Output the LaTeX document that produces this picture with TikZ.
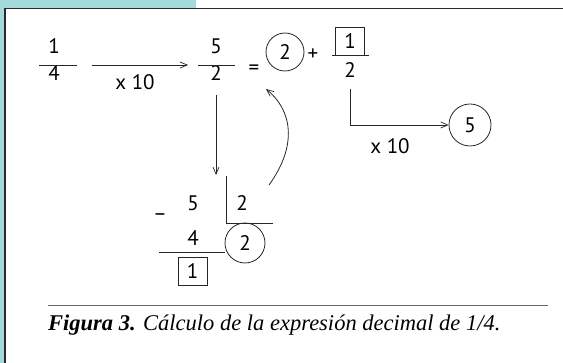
\documentclass[tikz,border=0pt]{standalone}
\usepackage{fontspec}
\setmainfont{Liberation Serif}
\newfontfamily\digfont{PT Sans}
\usetikzlibrary{arrows.meta}
\definecolor{bandteal}{HTML}{A4D9DA}
\definecolor{framegray}{HTML}{2A2A2A}
\tikzset{
  dig/.style={font=\digfont\fontsize{21}{24}\selectfont, inner sep=0pt},
  thinline/.style={line width=0.8pt, draw=black!85},
  arr/.style={thinline, -{Straight Barb[length=7pt,width=6pt,line width=0.7pt]}},
  circ/.style={circle, draw=black!85, line width=0.8pt, minimum size=38pt, inner sep=0pt, font=\digfont\fontsize{21}{24}\selectfont},
  sq/.style={draw=black!85, line width=0.8pt, minimum width=29pt, minimum height=28pt, inner sep=0pt, font=\digfont\fontsize{21}{24}\selectfont},
}
\begin{document}
\begin{tikzpicture}[x=1pt,y=-1pt]
\useasboundingbox (0,0) rectangle (563,363);
% frame
\fill[bandteal] (0,0) rectangle (196,8);
\fill[bandteal] (0,0) rectangle (4.5,363);
\draw[framegray, line width=1.5pt] (5,363) -- (5,8.5) -- (563,8.5);
% 1/4
\node[dig] (n1) at (54,46) {1};
\node[dig] (d1) at (54,73) {4};
\coordinate (b1l) at (39,65); \coordinate (b1r) at (77,65);
\draw[thinline] (b1l) -- (b1r);
% arrow x10
\coordinate (a1s) at (92,65); \coordinate (a1e) at (188,65);
\draw[arr] (a1s) -- (a1e);
\node[dig] (x1) at (135,82) {x 10};
% 5/2
\node[dig] (n2) at (216,46) {5};
\node[dig] (d2) at (216,73) {2};
\coordinate (b2l) at (198,65); \coordinate (b2r) at (235,65);
\draw[thinline] (b2l) -- (b2r);
\node[dig] (eq) at (254,70) {=};
\node[circ] (c2) at (285,52) {2};
\node[dig] (plus) at (313,55) {+};
\node[sq] (s1) at (350,41) {1};
\node[dig] (d3) at (350,70) {2};
\coordinate (b3l) at (332,55); \coordinate (b3r) at (369,55);
\draw[thinline] (b3l) -- (b3r);
% L arrow to 5
\node[circ, minimum size=42pt] (c5) at (470,125) {5};
\coordinate (l1) at (350,89);
\draw[arr] (l1) |- (c5.west);
\node[dig] (x2) at (390,146) {x 10};
% vertical arrow down
\coordinate (v1) at (216,95);
\coordinate (v2) at (216,175);
\draw[arr] (v1) -- (v2);
% curved arrow
\coordinate (cs) at (269,185);
\coordinate (ce) at (266,89);
\draw[arr] (cs) .. controls (298,145) and (292,110) .. (ce);
% division
\node[dig] (q5) at (193,203) {5};
\node[dig] (q2) at (242,203) {2};
\node[dig] (minus) at (160,217) {–};
\node[dig] (q4) at (193,238) {4};
\coordinate (dv1) at (226,176); \coordinate (dv2) at (226,223); \coordinate (dv3) at (273,223);
\draw[thinline] (dv1) -- (dv2) -- (dv3);
\node[circ, minimum size=40pt] (c2b) at (245,243) {2};
\coordinate (hl) at (159,252);
\draw[thinline] (hl) -- (c2b.west |- hl);
\node[sq] (s1b) at (192.5,271.5) {1};
% caption
\coordinate (cl) at (48,305.5); \coordinate (cr) at (548,305.5);
\draw[black!60, line width=0.8pt] (cl) -- (cr);
\node[anchor=base west, inner sep=0pt, font=\fontsize{22.5}{26}\selectfont] (cap) at (48,331)
  {\textbf{\textit{Figura 3.}} \textit{Cálculo de la expresión decimal de 1/4.}};
\end{tikzpicture}
\end{document}
